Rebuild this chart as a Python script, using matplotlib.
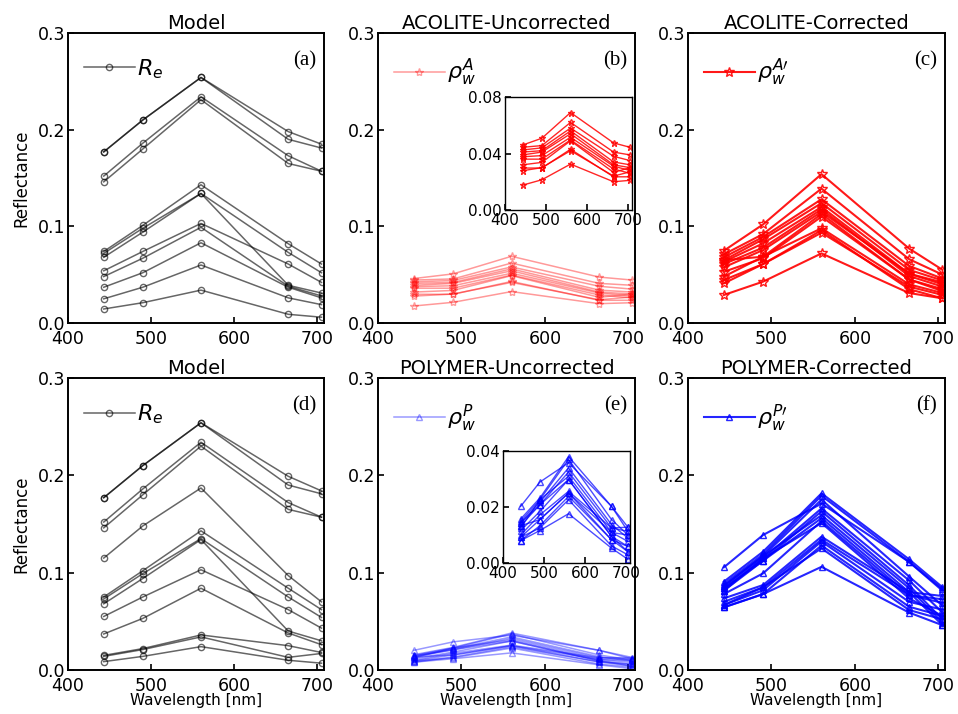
import matplotlib.pyplot as plt

# Sentinel-2 bands
wavelengths = [443, 490, 560, 665, 705]

# (a) Model R_e
model_a = [
    [0.177, 0.210, 0.254, 0.198, 0.185],
    [0.177, 0.210, 0.254, 0.190, 0.181],
    [0.152, 0.186, 0.234, 0.173, 0.157],
    [0.146, 0.180, 0.231, 0.165, 0.157],
    [0.074, 0.101, 0.143, 0.082, 0.061],
    [0.072, 0.098, 0.134, 0.073, 0.052],
    [0.068, 0.094, 0.134, 0.039, 0.031],
    [0.054, 0.074, 0.103, 0.061, 0.042],
    [0.048, 0.067, 0.099, 0.038, 0.028],
    [0.037, 0.052, 0.083, 0.037, 0.026],
    [0.025, 0.037, 0.060, 0.026, 0.019],
    [0.0145, 0.021, 0.034, 0.009, 0.006],
]

# (d) Model R_e
model_d = [
    [0.177, 0.210, 0.254, 0.199, 0.184],
    [0.177, 0.210, 0.254, 0.190, 0.181],
    [0.152, 0.186, 0.234, 0.172, 0.157],
    [0.146, 0.180, 0.230, 0.165, 0.157],
    [0.115, 0.148, 0.187, 0.097, 0.070],
    [0.075, 0.102, 0.143, 0.084, 0.062],
    [0.073, 0.099, 0.135, 0.075, 0.054],
    [0.068, 0.094, 0.134, 0.040, 0.030],
    [0.055, 0.075, 0.103, 0.062, 0.043],
    [0.037, 0.053, 0.084, 0.038, 0.026],
    [0.015, 0.022, 0.036, 0.025, 0.018],
    [0.014, 0.021, 0.034, 0.013, 0.017],
    [0.0086, 0.014, 0.024, 0.010, 0.007],
]

# (b) ACOLITE uncorrected
acolite_unc = [
    [0.046, 0.0508, 0.069, 0.0475, 0.0444],
    [0.0444, 0.0456, 0.062, 0.041, 0.039],
    [0.0425, 0.044, 0.058, 0.038, 0.035],
    [0.041, 0.042, 0.056, 0.034, 0.032],
    [0.039, 0.041, 0.054, 0.032, 0.030],
    [0.0377, 0.0385, 0.0515, 0.031, 0.028],
    [0.036, 0.036, 0.0496, 0.029, 0.026],
    [0.032, 0.0337, 0.049, 0.0266, 0.030],
    [0.0297, 0.0297, 0.043, 0.0235, 0.0235],
    [0.0278, 0.030, 0.042, 0.024, 0.027],
    [0.0176, 0.0214, 0.0325, 0.020, 0.021],
]

# (c) ACOLITE corrected
acolite_cor = [
    [0.0748, 0.102, 0.154, 0.077, 0.055],
    [0.071, 0.092, 0.139, 0.066, 0.050],
    [0.068, 0.089, 0.128, 0.059, 0.046],
    [0.065, 0.0866, 0.124, 0.055, 0.044],
    [0.0634, 0.0824, 0.120, 0.051, 0.040],
    [0.061, 0.078, 0.1176, 0.0486, 0.0376],
    [0.0576, 0.0755, 0.115, 0.051, 0.042],
    [0.065, 0.0686, 0.1128, 0.045, 0.035],
    [0.053, 0.067, 0.110, 0.045, 0.033],
    [0.048, 0.0686, 0.098, 0.040, 0.031],
    [0.0445, 0.061, 0.0934, 0.0376, 0.029],
    [0.041, 0.061, 0.096, 0.035, 0.0255],
    [0.029, 0.0428, 0.072, 0.031, 0.0255],
]

# (e) POLYMER uncorrected
polymer_unc = [
    [0.0202, 0.0289, 0.0358, 0.0202, 0.0128],
    [0.0157, 0.0232, 0.038, 0.0202, 0.0113],
    [0.0149, 0.0226, 0.037, 0.0155, 0.010],
    [0.0143, 0.0217, 0.034, 0.0137, 0.0089],
    [0.0133, 0.0208, 0.0325, 0.0125, 0.0113],
    [0.0125, 0.0226, 0.031, 0.0109, 0.0077],
    [0.0116, 0.0184, 0.0298, 0.0095, 0.0059],
    [0.010, 0.0172, 0.0256, 0.0125, 0.0128],
    [0.0092, 0.0155, 0.025, 0.0109, 0.010],
    [0.008, 0.0133, 0.0238, 0.0083, 0.004],
    [0.0092, 0.0125, 0.0226, 0.0061, 0.0029],
    [0.008, 0.0116, 0.0176, 0.0053, 0.0013],
    [0.0143, 0.0208, 0.0298, 0.0095, 0.004],
    [0.0133, 0.0155, 0.025, 0.0083, 0.0059],
]

# (f) POLYMER corrected
polymer_cor = [
    [0.0908, 0.1216, 0.1815, 0.1137, 0.085],
    [0.0884, 0.119, 0.179, 0.111, 0.0815],
    [0.1055, 0.1387, 0.171, 0.111, 0.083],
    [0.0863, 0.117, 0.175, 0.096, 0.066],
    [0.0839, 0.1147, 0.166, 0.092, 0.059],
    [0.0815, 0.1123, 0.163, 0.087, 0.052],
    [0.0863, 0.117, 0.159, 0.084, 0.0486],
    [0.0839, 0.1123, 0.156, 0.080, 0.046],
    [0.078, 0.0993, 0.153, 0.077, 0.069],
    [0.0815, 0.1147, 0.151, 0.0736, 0.0555],
    [0.0736, 0.0873, 0.137, 0.080, 0.076],
    [0.070, 0.085, 0.134, 0.077, 0.0726],
    [0.0668, 0.082, 0.132, 0.070, 0.062],
    [0.0644, 0.078, 0.128, 0.065, 0.0555],
    [0.0668, 0.085, 0.125, 0.0616, 0.052],
    [0.0644, 0.078, 0.106, 0.059, 0.046],
]

titles = ['Model', 'ACOLITE-Uncorrected', 'ACOLITE-Corrected',
          'Model', 'POLYMER-Uncorrected', 'POLYMER-Corrected']
panel_tags = ['(a)', '(b)', '(c)', '(d)', '(e)', '(f)']
legend_labels = [r'$R_e$', r'$\rho_w^A$', r'$\rho_w^{A\prime}$',
                 r'$R_e$', r'$\rho_w^P$', r'$\rho_w^{P\prime}$']

W, H = 958, 714
fig = plt.figure(figsize=(W / 100, H / 100), dpi=100)


def px_axes(left, top, right, bottom):
    # axes from pixel box of the reference image
    return fig.add_axes([left / W, 1 - bottom / H, (right - left) / W, (bottom - top) / H])


def style_axes(ax, lw=1.4, size=12.5):
    ax.tick_params(direction='in', length=4, width=1.2, labelsize=size,
                   top=False, right=False, pad=2)
    for s in ax.spines.values():
        s.set_linewidth(lw)


def draw_lines(ax, rows, color, marker, alpha, lw, ms, label):
    for i, r in enumerate(rows):
        ax.plot(wavelengths, r, color=color, marker=marker, alpha=alpha, lw=lw,
                ms=ms, mfc='none', mew=1, label=label if i == 0 else None)


boxes = [(68, 33, 324, 323), (378, 33, 635, 323), (688, 33, 945, 323),
         (68, 378, 324, 670), (378, 378, 635, 670), (688, 378, 945, 670)]
axes = [px_axes(*b) for b in boxes]

data = [model_a, acolite_unc, acolite_cor, model_d, polymer_unc, polymer_cor]
styles = [
    dict(color='k', marker='o', alpha=0.6, lw=1.1, ms=4.5),
    dict(color='red', marker='*', alpha=0.4, lw=1.1, ms=6),
    dict(color='red', marker='*', alpha=0.9, lw=1.5, ms=7),
    dict(color='k', marker='o', alpha=0.6, lw=1.1, ms=4.5),
    dict(color='blue', marker='^', alpha=0.4, lw=1.1, ms=5),
    dict(color='blue', marker='^', alpha=0.85, lw=1.5, ms=5),
]

for k, ax in enumerate(axes):
    draw_lines(ax, data[k], label=legend_labels[k], **styles[k])
    ax.set_xlim(400, 708)
    ax.set_ylim(0, 0.3)
    ax.set_xticks([400, 500, 600, 700])
    ax.set_yticks([0.0, 0.1, 0.2, 0.3])
    ax.set_yticklabels(['0.0', '0.1', '0.2', '0.3'])
    style_axes(ax)
    ax.tick_params(axis='x', pad=5)
    ax.set_title(titles[k], fontsize=14, pad=3)
    ax.text(0.97, 0.905, panel_tags[k], transform=ax.transAxes, ha='right', va='center',
            fontsize=15, family='Liberation Serif')
    ax.legend(loc='upper left', frameon=False, fontsize=16, handlelength=2.3,
              handletextpad=0.1, borderaxespad=0.3, bbox_to_anchor=(0.0, 0.97))
    if k % 3 == 0:
        ax.set_ylabel('Reflectance', fontsize=12, labelpad=5)
    if k >= 3:
        ax.set_xlabel('Wavelength [nm]', fontsize=11)
        ax.xaxis.set_label_coords(0.5, -0.079)

# insets
ins_b = px_axes(505, 97, 632, 210)
draw_lines(ins_b, acolite_unc, 'red', '*', 0.85, 1.0, 5, None)
ins_b.set_xlim(400, 710)
ins_b.set_ylim(0, 0.08)
ins_b.set_xticks([400, 500, 600, 700])
ins_b.set_yticks([0.0, 0.04, 0.08])
ins_b.set_yticklabels(['0.00', '0.04', '0.08'])
style_axes(ins_b, lw=1.0, size=11)

ins_e = px_axes(503, 451, 630, 563)
draw_lines(ins_e, polymer_unc, 'blue', '^', 0.7, 1.0, 4.5, None)
ins_e.set_xlim(400, 710)
ins_e.set_ylim(0, 0.04)
ins_e.set_xticks([400, 500, 600, 700])
ins_e.set_yticks([0.0, 0.02, 0.04])
ins_e.set_yticklabels(['0.00', '0.02', '0.04'])
style_axes(ins_e, lw=1.0, size=11)

plt.savefig('out.png', dpi=100)
